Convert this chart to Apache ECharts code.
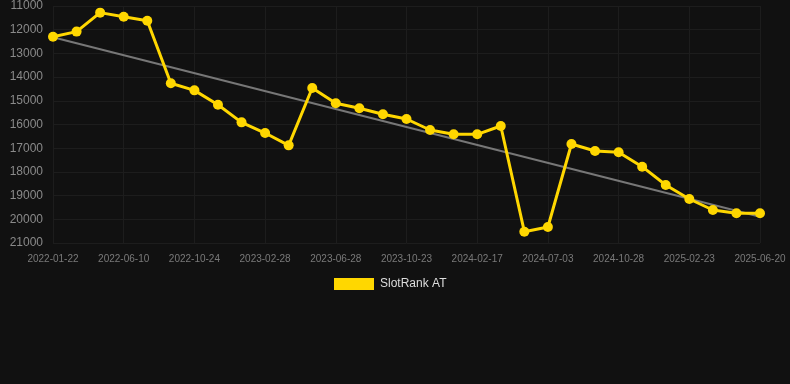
<!DOCTYPE html>
<html>
<head>
<meta charset="utf-8">
<script src="https://cdn.jsdelivr.net/npm/echarts@6/dist/echarts.min.js"></script>
<style>
  html, body { margin: 0; padding: 0; background: #111111; }
  #chart { width: 790px; height: 384px; }
</style>
</head>
<body>
<div id="chart"></div>
<script>
// dates (only every 3rd one is labelled on the axis)
var dates = [
  '2022-01-22', '2022-03-08', '2022-04-25', '2022-06-10', '2022-07-25', '2022-09-09',
  '2022-10-24', '2022-12-05', '2023-01-16', '2023-02-28', '2023-04-10', '2023-05-19',
  '2023-06-28', '2023-08-06', '2023-09-14', '2023-10-23', '2023-12-01', '2024-01-09',
  '2024-02-17', '2024-04-02', '2024-05-18', '2024-07-03', '2024-08-11', '2024-09-19',
  '2024-10-28', '2024-12-06', '2025-01-14', '2025-02-23', '2025-04-03', '2025-05-12',
  '2025-06-20'
];
// rank values
var rankAT = [
  12300, 12080, 11280, 11450, 11620, 14260, 14560, 15165, 15910, 16360, 16880,
  14460, 15105, 15316, 15570, 15768, 16232, 16414, 16414, 16063, 20523, 20325,
  16823, 17118, 17173, 17780, 18553, 19143, 19608, 19747, 19747
];
// trend line end points
var trendStart = 12320;
var trendEnd = 19890;
var yTicks = { min: 11000, max: 21000, step: 1000 };

var trend = dates.map(function (d, i) {
  if (i == 0) return trendStart;
  if (i == dates.length - 1) return trendEnd;
  return null;
});

var chart = echarts.init(document.getElementById('chart'));
chart.setOption({
  backgroundColor: '#111111',
  animation: false,
  grid: { left: 53, right: 30, top: 6, bottom: 141, containLabel: false },
  legend: {
    data: ['SlotRank AT'],
    top: 278,
    left: 334,
    icon: 'rect',
    itemWidth: 40,
    itemHeight: 12,
    itemGap: 5,
    padding: 0,
    textStyle: { color: '#dddddd', fontSize: 12, padding: [0, 0, 0, 1], fontFamily: 'Liberation Sans, Arial, sans-serif' }
  },
  xAxis: {
    type: 'category',
    data: dates,
    boundaryGap: false,
    axisLine: { show: false },
    axisTick: { show: false },
    axisLabel: {
      interval: 2,
      color: '#7a7a7a',
      fontSize: 10,
      margin: 11,
      fontFamily: 'Liberation Sans, Arial, sans-serif'
    },
    splitLine: { show: true, interval: 2, lineStyle: { color: '#1d1d1d', width: 1 } }
  },
  yAxis: {
    type: 'value',
    inverse: true,
    min: yTicks.min,
    max: yTicks.max,
    interval: yTicks.step,
    axisLine: { show: false },
    axisTick: { show: false },
    axisLabel: {
      color: '#8a8a8a',
      fontSize: 12,
      margin: 10,
      fontFamily: 'Liberation Sans, Arial, sans-serif',
      formatter: function (v) { return String(v); }
    },
    splitLine: { lineStyle: { color: '#1d1d1d', width: 1 } }
  },
  series: [
    {
      name: 'trend',
      type: 'line',
      data: trend,
      connectNulls: true,
      symbol: 'none',
      lineStyle: { color: '#777777', width: 2 },
      silent: true,
      z: 1
    },
    {
      name: 'SlotRank AT',
      type: 'line',
      data: rankAT,
      symbol: 'circle',
      symbolSize: 10,
      itemStyle: { color: '#FFD700' },
      lineStyle: { color: '#FFD700', width: 3 },
      z: 2
    }
  ]
});
</script>
</body>
</html>
